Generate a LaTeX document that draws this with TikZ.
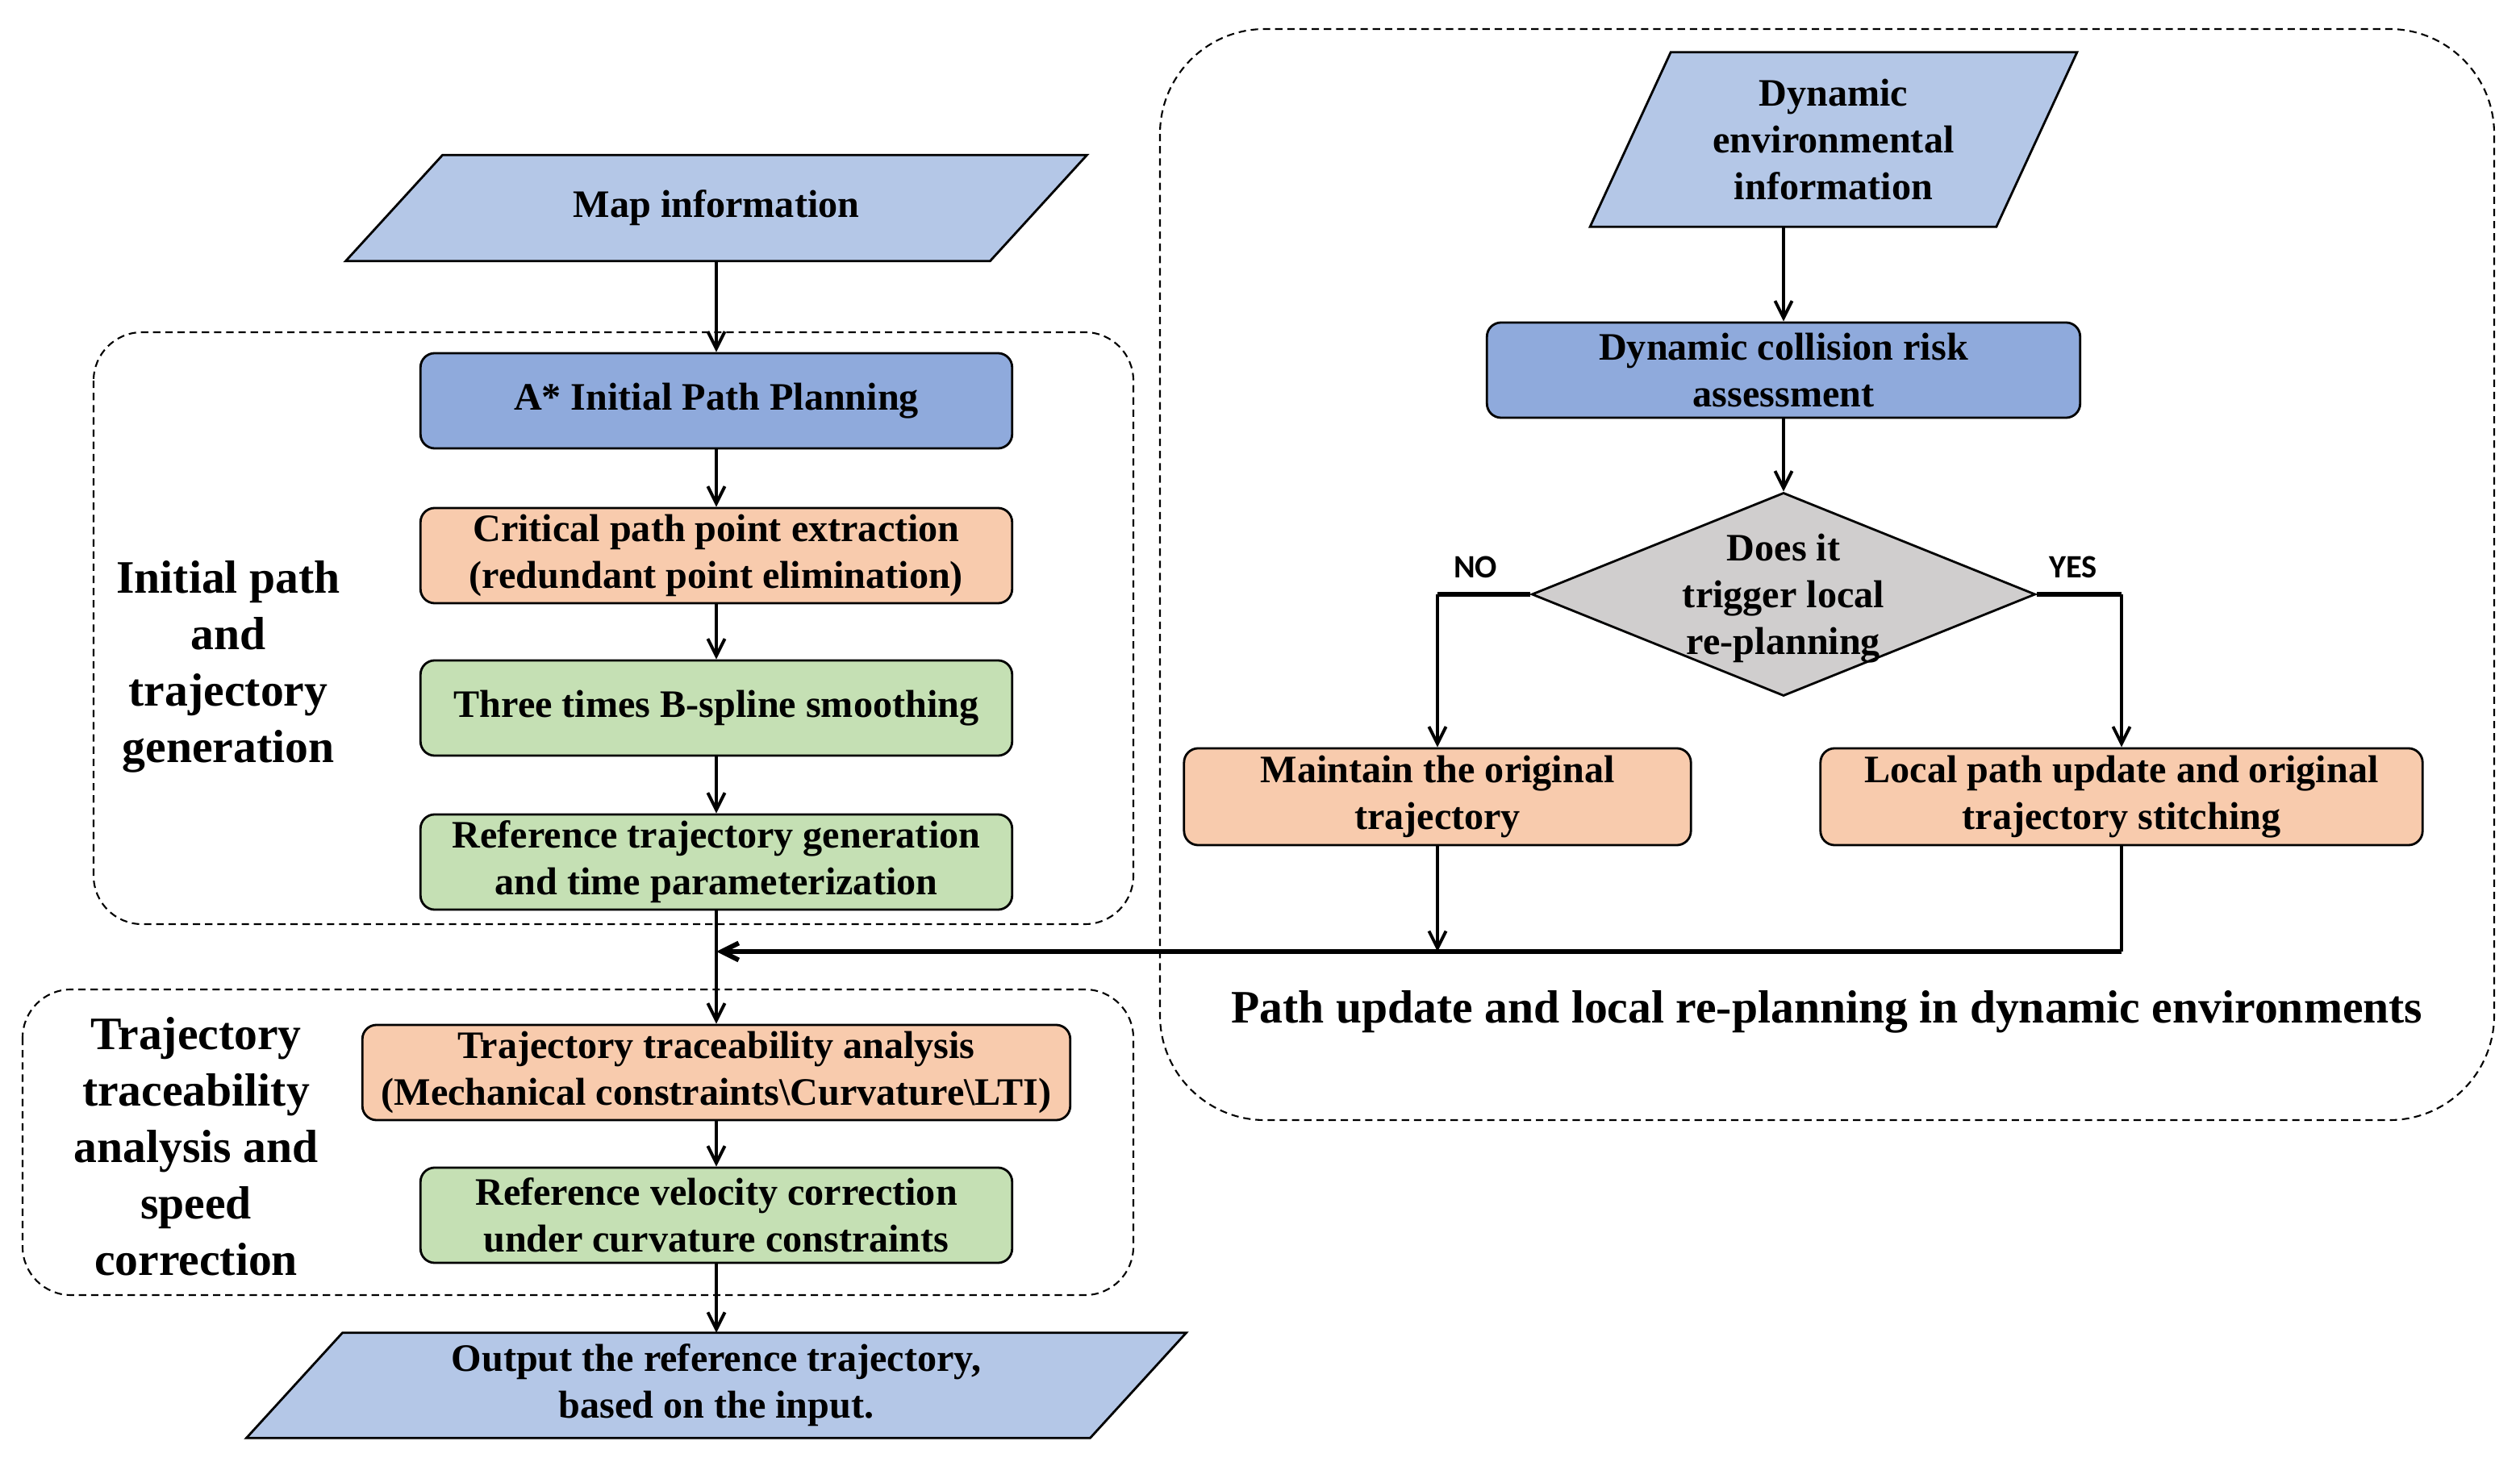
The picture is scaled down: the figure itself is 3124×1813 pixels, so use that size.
\documentclass[tikz,border=0pt]{standalone}
\usepackage{fontspec}
\setmainfont{Liberation Serif}
\newfontfamily\yesnofont{Carlito}
\usetikzlibrary{arrows.meta,shapes.geometric,backgrounds}

\definecolor{ioblue}{HTML}{B4C7E7}
\definecolor{stepblue}{HTML}{8FAADC}
\definecolor{steporange}{HTML}{F8CBAD}
\definecolor{stepgreen}{HTML}{C5E0B4}
\definecolor{decgray}{HTML}{D0CECE}

\newcommand\boxfont{\bfseries\fontsize{13.7}{16.5}\selectfont}
\newcommand\grpfont{\bfseries\fontsize{16.4}{19.9}\selectfont}
% slanted input/output shape drawn behind a named node
\newcommand\ioshape[2]{%
  \begin{scope}[on background layer]
    \draw[iofill] (#1.south west) -- ([xshift=#2]#1.north west) -- (#1.north east)
      -- ([xshift=-#2]#1.south east) -- cycle;
  \end{scope}}

\tikzset{
  stepbox/.style={draw, line width=0.8pt, rounded corners=5pt, align=center,
    font=\boxfont, minimum height=1.18cm, inner sep=2pt},
  iobox/.style={rectangle, align=center, font=\boxfont, inner sep=2pt},
  iofill/.style={fill=ioblue, draw, line width=0.8pt},
  decision/.style={diamond, draw, fill=decgray, line width=0.8pt,
    minimum width=6.24cm, minimum height=2.52cm, inner sep=0pt},
  groupbox/.style={draw, dash pattern=on 2.6pt off 1.7pt, line width=0.6pt,
    rounded corners=0.6cm},
  grouplabel/.style={align=center, font=\grpfont},
  yesno/.style={font=\yesnofont\bfseries\fontsize{11.5}{13}\selectfont},
  flow/.style={-{Straight Barb[length=6pt,width=6pt]}, line width=1.1pt},
  stub/.style={line width=1.7pt}
}

\begin{document}
\begin{tikzpicture}[x=0.01cm, y=-0.01cm]
\useasboundingbox (0,0) rectangle (3124,1813);

% dashed group frames
\draw[groupbox] (116,412) rectangle (1405,1146);
\draw[groupbox] (28,1227) rectangle (1405,1606);
\draw[groupbox, rounded corners=1.3cm] (1438,36) rectangle (3092,1389);

% main chain (left)
\node[iobox, minimum width=9.17cm, minimum height=1.3cm] (map) at (888,258) {Map information};
\ioshape{map}{1.2cm}
\node[stepbox, fill=stepblue, minimum width=7.33cm] (astar) at (888,497) {A* Initial Path Planning};
\node[stepbox, fill=steporange, minimum width=7.33cm] (crit) at (888,689)
    {Critical path point extraction\\(redundant point elimination)};
\node[stepbox, fill=stepgreen, minimum width=7.33cm] (spline) at (888,878) {Three times B-spline smoothing};
\node[stepbox, fill=stepgreen, minimum width=7.33cm] (reftraj) at (888,1069)
    {Reference trajectory generation\\and time parameterization};
\node[stepbox, fill=steporange, minimum width=8.77cm] (trace) at (888,1330)
    {Trajectory traceability analysis\\(Mechanical constraints\textbackslash Curvature\textbackslash LTI)};
\node[stepbox, fill=stepgreen, minimum width=7.33cm] (velo) at (888,1507)
    {Reference velocity correction\\under curvature constraints};
\node[iobox, minimum width=11.63cm, minimum height=1.29cm] (out) at (888,1718)
    {Output the reference trajectory,\\based on the input.};
\ioshape{out}{1.19cm}

% dynamic branch (right)
\node[iobox, minimum width=6.02cm, minimum height=2.15cm] (dynenv) at (2273,173)
    {Dynamic\\environmental\\information};
\ioshape{dynenv}{1.0cm}
\node[stepbox, fill=stepblue, minimum width=7.35cm] (risk) at (2211,459)
    {Dynamic collision risk\\assessment};
\node[decision, label={[align=center, font=\boxfont, yshift=-0.05cm]center:Does it\\trigger local\\re-planning}]
    (trig) at (2211,737) {};
\node[stepbox, fill=steporange, minimum width=6.28cm, minimum height=1.2cm] (keep) at (1782,988)
    {Maintain the original\\trajectory};
\node[stepbox, fill=steporange, minimum width=7.46cm, minimum height=1.2cm] (local) at (2630,988)
    {Local path update and original\\trajectory stitching};

% labels
\node[grouplabel] (lblinit) at (283,827) {Initial path\\and\\trajectory\\generation};
\node[grouplabel] (lbltrace) at (243,1422) {Trajectory\\traceability\\analysis and\\speed\\correction};
\node[grouplabel] (lbldyn) at (2265,1255) {Path update and local re-planning in dynamic environments};
\node[yesno] (nolbl) at (1829,703) {NO};
\node[yesno] (yeslbl) at (2570,703) {YES};

% connectors
\draw[flow] (map) -- (astar);
\draw[flow] (astar) -- (crit);
\draw[flow] (crit) -- (spline);
\draw[flow] (spline) -- (reftraj);
\draw[flow] (reftraj) -- (trace);
\draw[flow] (trace) -- (velo);
\draw[flow] (velo) -- (out);

\draw[flow] (risk.north |- dynenv.south) -- (risk.north);
\draw[flow] (risk) -- (trig);
\draw[stub] (trig.west) -- (trig.west -| keep.north);
\draw[flow] (trig.west -| keep.north) -- (keep.north);
\draw[stub] (trig.east) -- (trig.east -| local.north);
\draw[flow] (trig.east -| local.north) -- (local.north);

\coordinate (join) at (888,1180);
\draw[flow] (keep.south) -- (keep.south |- join);
\draw[line width=1.1pt] (local.south) -- (local.south |- join);
\draw[flow, stub] (local.south |- join) -- (join);

\end{tikzpicture}
\end{document}
